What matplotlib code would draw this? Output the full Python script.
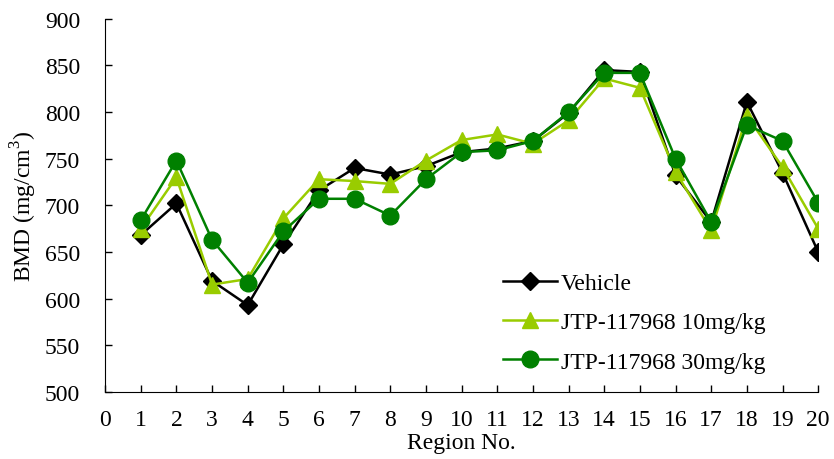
import numpy as np
import matplotlib
matplotlib.use("Agg")
import matplotlib.pyplot as plt

plt.rcParams['font.family'] = ['Liberation Serif', 'DejaVu Serif']
plt.rcParams['mathtext.fontset'] = 'custom'
plt.rcParams['mathtext.rm'] = 'Liberation Serif'

regions = np.arange(1, 21)

vehicle = [668, 702, 619, 593, 658, 716, 740, 733, 742, 757,
           761, 769, 799, 845, 843, 732, 682, 811, 735, 650]
jtp_10 = [675, 730, 615, 621, 686, 728, 726, 723, 748, 770,
          776, 766, 791, 836, 826, 736, 673, 796, 741, 675]
jtp_30 = [684, 748, 663, 617, 672, 707, 707, 689, 728, 757,
          759, 769, 800, 842, 842, 750, 682, 786, 769, 703]

fig = plt.figure(figsize=(8.34, 4.6), dpi=100)
ax = fig.add_axes([0.126, 0.146, 0.855, 0.811])

ax.plot(regions, vehicle, color='black', lw=1.8, marker='D', ms=9,
        label='Vehicle')
ax.plot(regions, jtp_10, color='#99cc00', lw=1.8, marker='^', ms=12,
        label='JTP-117968 10mg/kg')
ax.plot(regions, jtp_30, color='#008000', lw=1.8, marker='o', ms=12,
        label='JTP-117968 30mg/kg')

ax.set_xlim(0, 20)
ax.set_ylim(500, 900)
ax.set_xticks(range(0, 21))
ax.set_yticks(range(500, 901, 50))
ax.tick_params(direction='in', length=5, width=1, labelsize=17)
ax.tick_params(axis='y', pad=18)
ax.tick_params(axis='x', pad=12)
for s in ['top', 'right']:
    ax.spines[s].set_visible(False)

ax.set_xlabel('Region No.', fontsize=17, labelpad=2)
ax.set_ylabel('BMD (mg/cm$^\\mathrm{3}$)', fontsize=17, labelpad=4)

ax.legend(loc='upper left', bbox_to_anchor=(0.545, 0.345), frameon=False,
          fontsize=17, handlelength=2.3, handletextpad=0.15,
          labelspacing=0.75, borderaxespad=0)

fig.savefig('out.png', dpi=100)
